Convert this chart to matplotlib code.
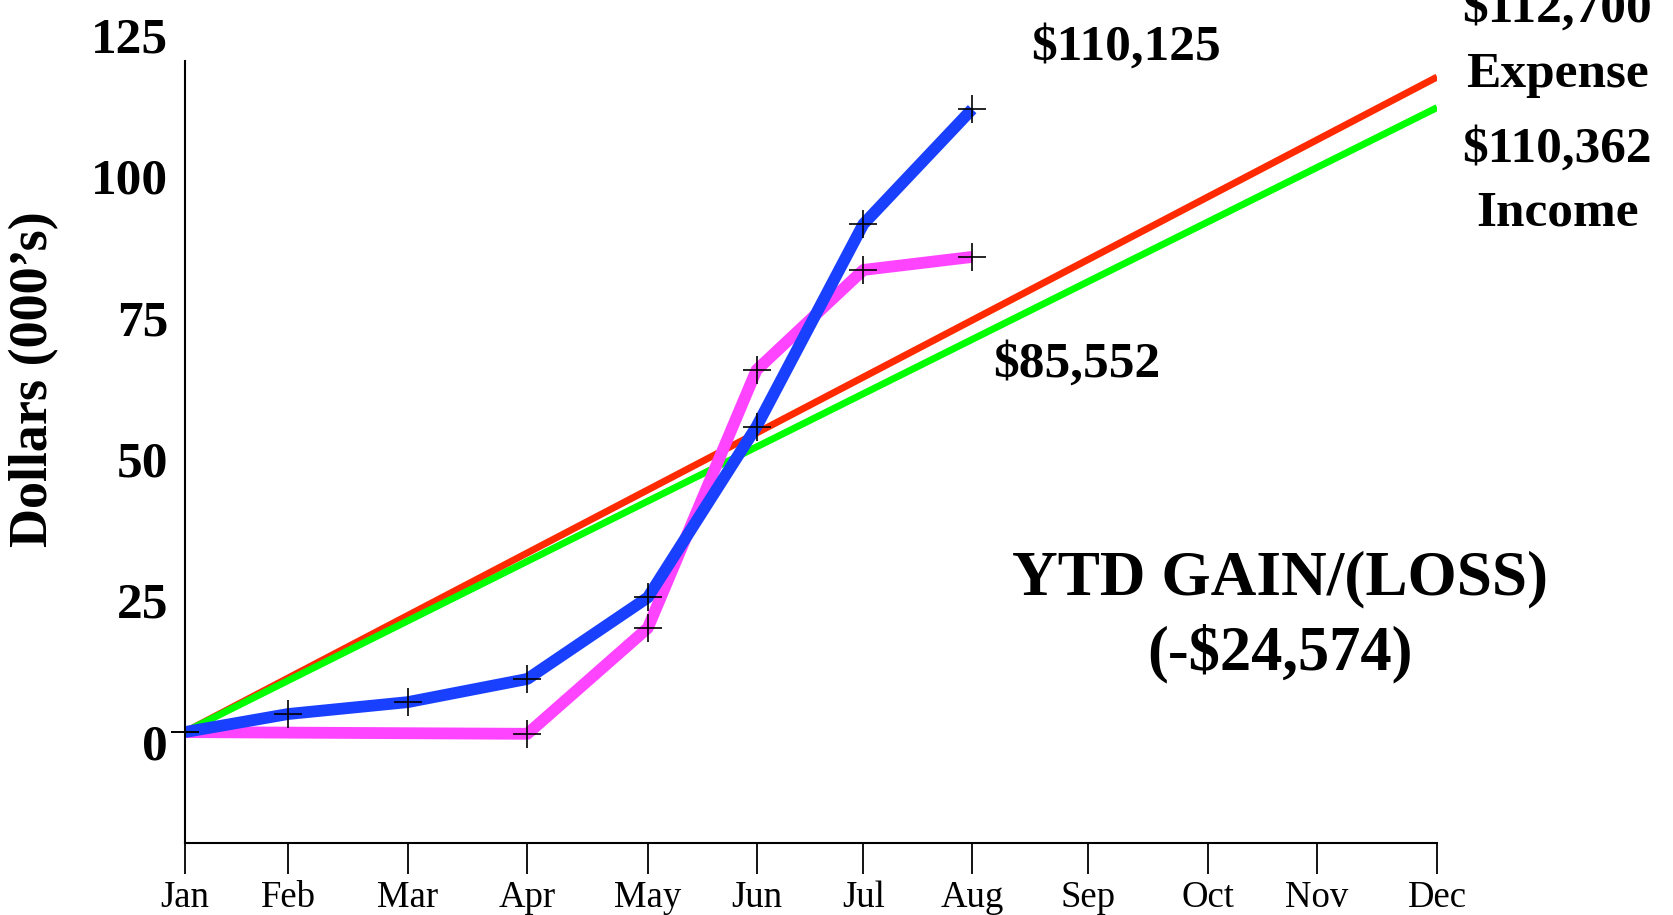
import numpy as np
import matplotlib
matplotlib.use("Agg")
import matplotlib.pyplot as plt
from matplotlib.transforms import ScaledTranslation

plt.rcParams['font.family'] = ['Liberation Serif', 'DejaVu Serif']

# month labels and where each sits along the (uneven) x axis, in days
months = ['Jan', 'Feb', 'Mar', 'Apr', 'May', 'Jun', 'Jul', 'Aug', 'Sep', 'Oct', 'Nov', 'Dec']
month_day = [0, 27.6, 59.5, 91.4, 123.5, 152.5, 181, 210, 241, 273, 302, 334]

# budget lines (000's), Jan -> Dec
expense_budget = [0, 115.8]
income_budget = [0, 110.4]

# actual expense (blue), Jan..Aug
blue_months = ['Jan', 'Feb', 'Mar', 'Apr', 'May', 'Jun', 'Jul', 'Aug']
blue_vals = [0, 3.2, 5.3, 9.4, 23.8, 54.0, 89.8, 110.125]

# actual income (magenta)
pink_months = ['Jan', 'Apr', 'May', 'Jun', 'Jul', 'Aug']
pink_vals = [0, -0.3, 18.4, 64.0, 81.7, 84.0]

yticks = [0, 25, 50, 75, 100, 125]

day = dict(zip(months, month_day))
bx = [day[m] for m in blue_months]
px = [day[m] for m in pink_months]
lx = [day['Jan'], day['Dec']]

fig = plt.figure(figsize=(16.73, 9.15), dpi=100)
ax = fig.add_axes([0.1104, 0.0787, 0.7486, 0.894])

ax.plot(lx, expense_budget, color='#ff2a00', lw=5, solid_capstyle='butt', zorder=2)
ax.plot(lx, income_budget, color='#00ff00', lw=5, solid_capstyle='butt', zorder=2)
ax.plot(px, pink_vals, color='#ff44ff', lw=8.5, solid_capstyle='butt', zorder=3)
ax.plot(bx, blue_vals, color='#1a40ff', lw=8.5, solid_capstyle='butt', zorder=4)
ax.plot(bx, blue_vals, ls='none', marker='+', ms=20, mew=1.2, color='black', zorder=5, clip_on=False)
ax.plot(px, pink_vals, ls='none', marker='+', ms=20, mew=1.2, color='black', zorder=5, clip_on=False)

ax.set_xlim(0, 334)
ax.set_ylim(-19.6, 125)
ax.spines['top'].set_visible(False)
ax.spines['right'].set_visible(False)
ax.spines['left'].set_bounds(-19.6, 118.7)
ax.spines['left'].set_linewidth(1.5)
ax.spines['bottom'].set_linewidth(1.5)

ax.set_xticks(month_day)
ax.set_xticklabels(months, fontsize=26.5)
ax.tick_params(axis='x', direction='out', length=22, width=1.3, pad=5)

ax.set_yticks(yticks)
ax.set_yticklabels([str(v) for v in yticks], fontsize=37, fontweight='bold')
ax.tick_params(axis='y', length=0, pad=12)
off = ScaledTranslation(0, -7 / 72, fig.dpi_scale_trans)
for lab in ax.get_yticklabels():
    lab.set_transform(lab.get_transform() + off)

ax.set_ylabel("Dollars (000\u2019s)", fontsize=39, fontweight='bold')
ax.yaxis.set_label_coords(-0.100, 0.567)

txt = dict(fontsize=37, fontweight='bold', ha='center', va='center', clip_on=False)
ax.text(251, 121, '$110,125', **txt)
ax.text(366, 127.8, '$112,700', **txt)
ax.text(366, 116.2, 'Expense', **txt)
ax.text(366, 103, '$110,362', **txt)
ax.text(366, 91.7, 'Income', **txt)
ax.text(238, 65, '$85,552', **txt)
ax.text(292, 27, 'YTD GAIN/(LOSS)', fontsize=45.5, fontweight='bold', ha='center', va='center')
ax.text(292, 13.8, '(-$24,574)', fontsize=45, fontweight='bold', ha='center', va='center')

fig.savefig('out.png', dpi=100)
